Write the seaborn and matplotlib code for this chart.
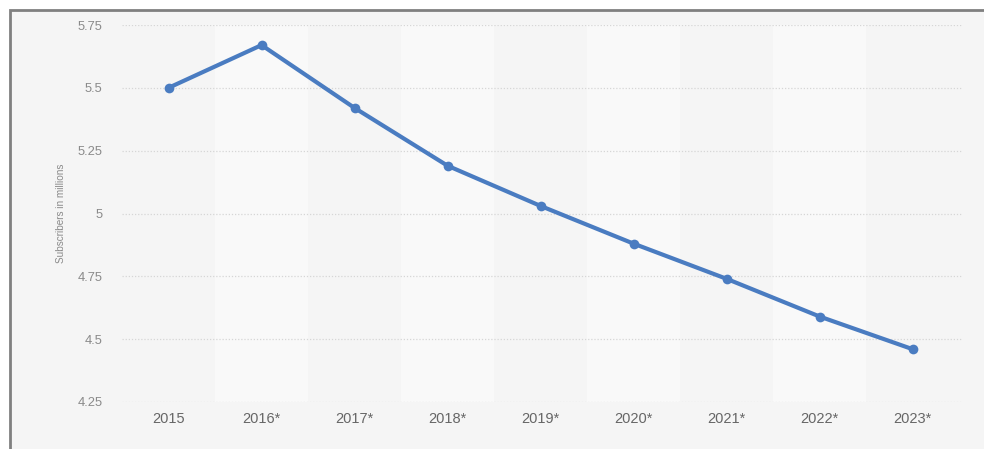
import matplotlib
matplotlib.use("Agg")
import matplotlib.pyplot as plt
from matplotlib.patches import Rectangle
import seaborn as sns
import pandas as pd
import numpy as np

# Subscriber figures (millions), forecast years marked with *
years = ["2015", "2016*", "2017*", "2018*", "2019*", "2020*", "2021*", "2022*", "2023*"]
subscribers = [5.50, 5.67, 5.42, 5.19, 5.03, 4.88, 4.74, 4.59, 4.46]
y_ticks = [4.25, 4.5, 4.75, 5, 5.25, 5.5, 5.75]
y_tick_labels = ["4.25", "4.5", "4.75", "5", "5.25", "5.5", "5.75"]

df = pd.DataFrame({"pos": np.arange(len(years)), "year": years, "subs": subscribers})

sns.set_style("white")
plt.rcParams["font.family"] = ["Liberation Sans", "DejaVu Sans"]

W, H = 984, 449
fig = plt.figure(figsize=(W / 100, H / 100), dpi=100)
fig.patch.set_facecolor("white")

# grey card behind the chart with a dark top/left edge
card = Rectangle((10 / W, -0.01), 1.0, (H - 10) / H + 0.01, transform=fig.transFigure,
                 facecolor="#f5f5f5", edgecolor="#808080", linewidth=2, zorder=-10)
fig.patches.append(card)

ax = fig.add_axes([122 / W, 1 - 402 / H, (962 - 122) / W, (402 - 25) / H])
ax.set_facecolor("none")

# alternating column bands
for i in range(len(years)):
    if i % 2 == 1:
        ax.axvspan(i - 0.5, i + 0.5, color="#f9f9f9", zorder=0, lw=0)

for t in y_ticks:
    ax.axhline(t, color="#d6d6d6", lw=0.9, ls=(0, (1, 1.5)), zorder=1)

sns.lineplot(data=df, x="pos", y="subs", ax=ax, color="#4a7cc1", linewidth=3.0,
             marker="o", markersize=7, markeredgewidth=0, zorder=3)

ax.set_xlim(-0.5, len(years) - 0.5 + 0.03)
ax.set_ylim(4.25, 5.75)
ax.set_xticks(df["pos"])
ax.set_xticklabels(years, fontsize=10.5, color="#666666")
ax.set_yticks(y_ticks)
ax.set_yticklabels(y_tick_labels, fontsize=9.3, color="#8a8a8a")
ax.tick_params(axis="y", length=0, pad=14)
ax.tick_params(axis="x", length=0, pad=7)
ax.set_xlabel("")
ax.set_ylabel("")
for s in ax.spines.values():
    s.set_visible(False)

fig.text(61 / W, 1 - 213 / H, "Subscribers in millions", rotation=90, fontsize=7.2,
         color="#8a8a8a", ha="center", va="center")

fig.savefig("out.png", dpi=100)
